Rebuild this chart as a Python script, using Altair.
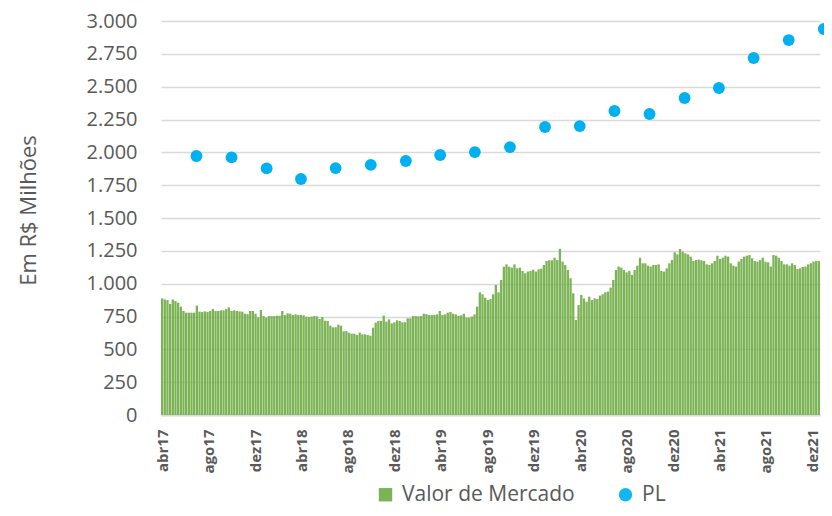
import altair as alt
import pandas as pd

# ---------------- data ----------------
bar_start = "2017-03-29"  # first weekly observation
valor_mercado = [
    888, 880, 875, 845, 880, 868, 855, 825, 792, 779, 779, 779, 779, 833, 787, 784, 789, 784, 792, 807,
    792, 792, 797, 797, 807, 820, 792, 797, 792, 789, 787, 771, 768, 792, 792, 771, 743, 799, 753, 741,
    753,
    753, 753, 756, 756, 792, 761, 774, 771, 761, 766, 761, 761, 759, 749, 746, 749, 753, 751, 731, 746,
    718, 716, 680, 668, 668, 688, 680, 637, 639, 627, 619, 619, 609, 627, 614, 614, 609, 604, 665, 703,
    716,
    716, 756, 711, 728, 698, 706, 721, 716, 706, 706, 736, 736, 753, 753, 751, 753, 771, 768, 761, 761,
    764, 766, 792, 761, 766, 779, 784, 771, 766, 756, 759, 771, 743, 741, 749, 766, 825, 934, 919, 893,
    875,
    883, 919, 990, 934, 1028, 1129, 1147, 1129, 1122, 1147, 1117, 1122, 1097, 1079, 1092, 1097, 1107, 1092, 1109, 1114,
    1142, 1173, 1178, 1178, 1198, 1180, 1265, 1168, 1142, 1104, 1041, 927, 723, 838, 914, 888, 863, 901, 875, 888,
    883,
    909, 919, 934, 939, 970, 1028, 1104, 1130, 1122, 1104, 1086, 1097, 1066, 1104, 1137, 1198, 1155, 1155, 1137, 1130,
    1142, 1142, 1147, 1097, 1092, 1117, 1155, 1180, 1239, 1223, 1264, 1244, 1231, 1223, 1206, 1173, 1180, 1183, 1178, 1173,
    1147,
    1142, 1155, 1173, 1213, 1188, 1198, 1213, 1206, 1155, 1137, 1130, 1168, 1188, 1206, 1213, 1218, 1193, 1173, 1168, 1180,
    1198, 1168, 1163, 1130, 1218, 1213, 1198, 1173, 1147, 1147, 1137, 1155, 1142, 1112, 1117, 1127, 1130, 1147, 1155, 1168,
    1173, 1173,
]

pl_dates = [
    "2017-06-30", "2017-09-30", "2017-12-31",
    "2018-03-31", "2018-06-30", "2018-09-30", "2018-12-31",
    "2019-03-31", "2019-06-30", "2019-09-30", "2019-12-31",
    "2020-03-31", "2020-06-30", "2020-09-30", "2020-12-31",
    "2021-03-31", "2021-06-30", "2021-09-30", "2021-12-31",
]
pl_values = [
    1972, 1962, 1878,
    1797, 1880, 1905, 1934,
    1980, 2002, 2040, 2193,
    2200, 2315, 2292, 2414,
    2490, 2718, 2855, 2939,
]

tick_dates = [
    "2017-04-01", "2017-08-01", "2017-12-01",
    "2018-04-01", "2018-08-01", "2018-12-01",
    "2019-04-01", "2019-08-01", "2019-12-01",
    "2020-04-01", "2020-08-01", "2020-12-01",
    "2021-04-01", "2021-08-01", "2021-12-01",
]
x_domain = ["2017-03-29", "2021-12-21"]
y_ticks = [0, 250, 500, 750, 1000, 1250, 1500, 1750, 2000, 2250, 2500, 2750, 3000]
series_names = ["Valor de Mercado", "PL"]
series_colors = ["#70AD47", "#00B0F0"]
series_shapes = ["square", "circle"]

# ---------------- tables ----------------
dates = pd.date_range(bar_start, periods=len(valor_mercado), freq="7D")
bars_df = pd.DataFrame({
    "data": dates.strftime("%Y-%m-%d"),
    "fim": (dates + pd.Timedelta(days=6)).strftime("%Y-%m-%d"),
    "valor": valor_mercado,
    "serie": series_names[0],
})
pl_df = pd.DataFrame({"data": pl_dates, "valor": pl_values, "serie": series_names[1]})


def ms(d):
    return int(pd.Timestamp(d).value // 10**6)


tick_ms = [ms(d) for d in tick_dates]
dom_ms = [ms(d) for d in x_domain]

GRAY = "#595959"
FONT = "Open Sans"

months_pt = "['jan','fev','mar','abr','mai','jun','jul','ago','set','out','nov','dez']"

x_scale = alt.Scale(type="utc", domain=dom_ms, nice=False)
y_scale = alt.Scale(domain=[0, 3000], nice=False, zero=True)

x_axis = alt.Axis(
    values=tick_ms,
    tickCount=40,
    labelExpr=months_pt + "[utcmonth(datum.value)] + utcFormat(datum.value, '%y')",
    labelAngle=-90,
    labelFontWeight="bold",
    labelFontSize=15,
    labelColor=GRAY,
    labelFont=FONT,
    labelPadding=14,
    labelOverlap=False,
    labelFlush=False,
    ticks=False,
    grid=False,
    domainColor="#d9d9d9",
    domainWidth=2,
    title=None,
)

y_axis = alt.Axis(
    values=y_ticks,
    tickCount=40,
    labelExpr="replace(format(datum.value, ',.0f'), ',', '.')",
    ticks=False,
    domain=False,
    gridColor="#d9d9d9",
    gridWidth=1.5,
    labelFontSize=20,
    labelColor=GRAY,
    labelFont=FONT,
    labelPadding=24,
    labelOverlap=False,
    title="Em R$ Milhões",
    titleFontSize=22,
    titleFontWeight="normal",
    titleColor=GRAY,
    titleFont=FONT,
    titleX=-133,
    titleY=189,
    titleAngle=-90,
    titleAlign="center",
    titleBaseline="middle",
)

legend = alt.Legend(
    orient="none",
    legendX=214,
    legendY=463,
    direction="horizontal",
    title=None,
    symbolSize=180,
    symbolStrokeWidth=0,
    labelFontSize=21,
    labelColor=GRAY,
    labelFont=FONT,
    labelLimit=400,
    columnPadding=40,
    labelOffset=6,
)

color_scale = alt.Scale(domain=series_names, range=series_colors)
shape_scale = alt.Scale(domain=series_names, range=series_shapes)

bars = alt.Chart(bars_df).mark_bar(opacity=0.92).encode(
    x=alt.X("data:T", scale=x_scale, axis=x_axis),
    x2="fim:T",
    y=alt.Y("valor:Q", scale=y_scale, axis=y_axis),
    y2=alt.datum(0),
    color=alt.Color("serie:N", scale=color_scale, legend=legend),
)

points = alt.Chart(pl_df).mark_point(filled=True, size=140, opacity=1).encode(
    x=alt.X("data:T", scale=x_scale, axis=x_axis),
    y=alt.Y("valor:Q", scale=y_scale, axis=y_axis),
    color=alt.Color("serie:N", scale=color_scale, legend=legend),
    shape=alt.Shape("serie:N", scale=shape_scale, legend=legend),
)

chart = (
    alt.layer(bars, points)
    .properties(
        width=659,
        height=394,
        padding={"left": 153, "top": 13, "right": 4, "bottom": 93},
        autosize=alt.AutoSizeParams(type="none"),
    )
    .configure(font=FONT)
    .configure_view(strokeWidth=0)
)

chart.save("out.html", embed_options={"renderer": "svg", "actions": False})
